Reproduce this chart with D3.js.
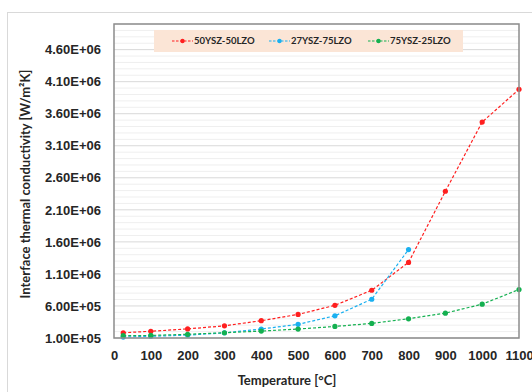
<!DOCTYPE html>
<html>
  <head>
    <meta charset="utf-8">
    <title>Interface thermal conductivity</title>
    <script src="https://cdn.jsdelivr.net/npm/d3@7"></script>
    <style>
      body { margin: 0; background: #fff; }
      #chart { display: block; font-family: Lato, "Open Sans", sans-serif; font-weight: bold; }
      .tick text { fill: #262626; font-size: 13px; font-weight: bold; }
      .title { fill: #262626; font-size: 13px; font-weight: bold; }
      .legendLabel { fill: #262626; font-size: 9.5px; font-weight: bold; }
    </style>
  </head>

  <body>
    <svg id="chart" width="532" height="392"></svg>

    <script>
      // data
      temps = [25, 100, 200, 300, 400, 500, 600, 700, 800, 900, 1000, 1100];
      ysz50 = [1.82e5, 2.05e5, 2.42e5, 2.9e5, 3.7e5, 4.68e5, 6.1e5, 8.45e5, 1.28e6, 2.39e6, 3.47e6, 3.98e6];
      ysz27 = [1.15e5, 1.27e5, 1.45e5, 1.8e5, 2.4e5, 3.13e5, 4.46e5, 7.05e5, 1.48e6];
      ysz75 = [1.36e5, 1.4e5, 1.58e5, 1.82e5, 2.08e5, 2.4e5, 2.8e5, 3.28e5, 4.0e5, 4.88e5, 6.28e5, 8.56e5];
      seriesNames = ["50YSZ-50LZO", "27YSZ-75LZO", "75YSZ-25LZO"];
      seriesColours = ["#ff1f1f", "#1ab0f0", "#14b050"];
      xTicks = [0, 100, 200, 300, 400, 500, 600, 700, 800, 900, 1000, 1100];
      yTicks = [1e5, 6e5, 1.1e6, 1.6e6, 2.1e6, 2.6e6, 3.1e6, 3.6e6, 4.1e6, 4.6e6];

      series = [ysz50, ysz27, ysz75].map(function(vals, i) {
        return {
          name: seriesNames[i],
          colour: seriesColours[i],
          points: vals.map(function(v, j) { return { t: temps[j], v: v }; })
        };
      });

      chart = d3.select("#chart");
      margin = { top: 24, right: 13, bottom: 54, left: 114 };
      width = 532;
      height = 392;

      // outer frame
      chart.append("rect")
        .attr("x", 7.5).attr("y", 12.5)
        .attr("width", 540).attr("height", 400)
        .attr("fill", "none")
        .attr("stroke", "#d9d9d9");

      x = d3.scaleLinear()
        .domain([0, 1100])
        .range([margin.left, width - margin.right]);
      y = d3.scaleLinear()
        .domain([1e5, 5e6])
        .range([height - margin.bottom, margin.top]);

      // gridlines
      minor = d3.range(1e5, 5.0001e6, 1e5);
      chart.append("g")
        .selectAll("line")
          .data(minor)
        .enter().append("line")
          .attr("x1", x(0)).attr("x2", x(1100))
          .attr("y1", function(d) { return y(d); })
          .attr("y2", function(d) { return y(d); })
          .attr("stroke", function(d) { return Math.round((d - 1e5) / 1e5) % 5 == 0 ? "#d9d9d9" : "#efefef"; })
          .attr("stroke-width", 1);

      // legend
      legend = chart.append("g");
      legend.append("rect")
        .attr("x", 154).attr("y", 30)
        .attr("width", 309).attr("height", 22)
        .attr("fill", "#fbe5d6");
      legendX = [172, 269, 368];
      series.forEach(function(s, i) {
        g = legend.append("g").attr("transform", "translate(" + legendX[i] + ",41)");
        g.append("line")
          .attr("x1", 0).attr("x2", 21)
          .attr("stroke", s.colour)
          .attr("stroke-width", 1.2)
          .attr("stroke-dasharray", "2.5,1.5");
        g.append("circle")
          .attr("cx", 10.5).attr("r", 2.2)
          .attr("fill", s.colour);
        g.append("text")
          .attr("class", "legendLabel")
          .attr("x", 22).attr("dy", "0.35em")
          .text(s.name);
      });

      // lines
      line = d3.line()
        .x(function(d) { return x(d.t); })
        .y(function(d) { return y(d.v); });

      lines = chart.append("g")
        .selectAll("g")
          .data(series)
        .enter().append("g");
      lines.append("path")
        .attr("d", function(d) { return line(d.points); })
        .attr("fill", "none")
        .attr("stroke", function(d) { return d.colour; })
        .attr("stroke-width", 1.2)
        .attr("stroke-dasharray", "3,2");
      lines.selectAll("circle")
          .data(function(d) { return d.points.map(function(p) { return { p: p, c: d.colour }; }); })
        .enter().append("circle")
          .attr("cx", function(d) { return x(d.p.t); })
          .attr("cy", function(d) { return y(d.p.v); })
          .attr("r", 2.6)
          .attr("fill", function(d) { return d.c; });

      // plot border
      chart.append("rect")
        .attr("x", x(0)).attr("y", y(5e6))
        .attr("width", x(1100) - x(0))
        .attr("height", y(1e5) - y(5e6))
        .attr("fill", "none")
        .attr("stroke", "#8c8c8c")
        .attr("stroke-width", 1.5);

      // axes
      xAxis = d3.axisBottom(x)
        .tickValues(xTicks)
        .tickSize(0)
        .tickPadding(13)
        .tickFormat(d3.format("d"));
      chart.append("g")
        .attr("transform", "translate(0," + (height - margin.bottom) + ")")
        .call(xAxis)
        .call(function(g) { g.select(".domain").remove(); });

      yFormat = function(d) {
        return d.toExponential(2).toUpperCase().replace(/E\+(\d)$/, "E+0$1");
      };
      yAxis = d3.axisLeft(y)
        .tickValues(yTicks)
        .tickSize(0)
        .tickPadding(13)
        .tickFormat(yFormat);
      chart.append("g")
        .attr("transform", "translate(" + margin.left + ",0)")
        .call(yAxis)
        .call(function(g) { g.select(".domain").remove(); });

      chart.selectAll(".tick text").attr("font-family", null).attr("font-size", null);

      // titles
      chart.append("text")
        .attr("class", "title")
        .attr("x", 287).attr("y", 380)
        .attr("dy", "0.35em")
        .attr("text-anchor", "middle")
        .text("Temperature [°C]");
      chart.append("text")
        .attr("class", "title")
        .attr("transform", "translate(25," + 184 + ") rotate(-90)")
        .attr("dy", "0.35em")
        .attr("text-anchor", "middle")
        .text("Interface thermal conductivity [W/m²K]");
    </script>
  </body>
</html>
